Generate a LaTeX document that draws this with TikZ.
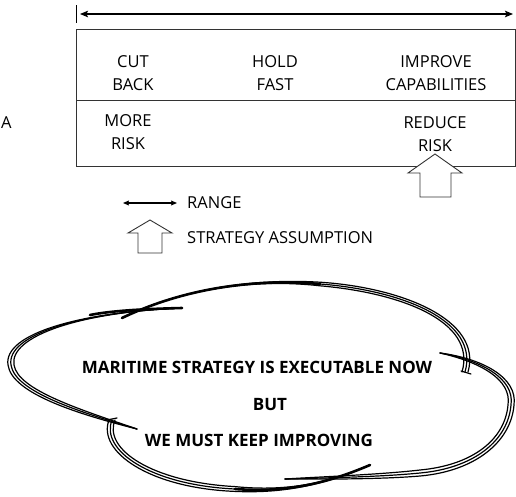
\documentclass[tikz,border=0pt]{standalone}
\usepackage{fontspec}
\setmainfont{Open Sans}
\usetikzlibrary{arrows.meta}
\begin{document}
\begin{tikzpicture}[x=1pt,y=-1pt,
  lbl/.style={font=\fontsize{16.5}{23}\selectfont, align=center, inner sep=0pt},
  big/.style={font=\bfseries\fontsize{17}{20}\selectfont, inner sep=0pt},
  boxline/.style={draw=black!80, line width=0.9pt},
  hollow/.style={draw=black!80, line width=0.9pt, fill=white, line join=miter},
  rangearrow/.style={line width=1.3pt, {Stealth[length=8pt,width=6.5pt,inset=1.5pt]}-{Stealth[length=8pt,width=6.5pt,inset=1.5pt]}},
  smallrange/.style={line width=1.1pt, {Stealth[length=6pt,width=5pt,inset=1pt]}-{Stealth[length=6pt,width=5pt,inset=1pt]}},
  cloudline/.style={line width=1.2pt, line cap=round},
  cloudthick/.style={line width=2.6pt, line cap=round},
]
\useasboundingbox (0,0) rectangle (516,496);

% range indicator
\coordinate (tickT) at (76,5);
\coordinate (tickB) at (76,23);
\draw[line width=0.9pt] (tickT) -- (tickB);
\coordinate (rl) at (80,14);
\coordinate (rr) at (513,14);
\draw[rangearrow] (rl) -- (rr);

% table box
\coordinate (bx1) at (76,29);
\coordinate (bx2) at (515,166);
\draw[boxline] (bx1) rectangle (bx2);
\coordinate (mL) at (76,100);
\coordinate (mR) at (515,100);
\draw[boxline] (mL) -- (mR);

\node[lbl] (cut) at (133,73.5) {CUT\\BACK};
\node[lbl] (hold) at (275,73.5) {HOLD\\FAST};
\node[lbl] (impr) at (436,73.5) {IMPROVE\\CAPABILITIES};
\node[lbl] (more) at (128,132) {MORE\\RISK};
\node[lbl] (redu) at (435,134) {REDUCE\\RISK};
\node[lbl, anchor=west] (a) at (1,123) {A};

% strategy assumption arrow on box
\draw[hollow] (435,154) -- (462,173) -- (451,173) -- (451,197) -- (420,197) -- (420,173) -- (408,173) -- cycle;

% legend
\coordinate (lgl) at (123,203);
\coordinate (lgr) at (177,203);
\draw[smallrange] (lgl) -- (lgr);
\node[lbl, anchor=west] (range) at (187,203) {RANGE};
\draw[hollow] (150,220) -- (172,233) -- (162,233) -- (162,253) -- (138,253) -- (138,233) -- (128,233) -- cycle;
\node[lbl, anchor=west] (strat) at (187,238) {STRATEGY ASSUMPTION};

% cloud
\foreach \k in {-3,0,3}{
  % top lobe
  \draw[cloudline] (122,318) .. controls (180,290) and (250,278) .. (320,{284-0.6*\k})
     .. controls (400,{290-0.9*\k}) and ({480+\k},{320-0.3*\k}) .. ({465+\k},372);
  % right lobe
  \draw[cloudline] (440,353) .. controls ({480+0.2*\k},{360-0.6*\k}) and ({515+\k},{378-0.4*\k}) .. ({511+\k},405)
     .. controls ({508+\k},{440+0.4*\k}) and ({475+0.4*\k},{468+\k}) .. (420,{473+\k})
     .. controls (380,{477+0.8*\k}) and (320,{478+0.4*\k}) .. (285,479);
  % bottom lobe
  \draw[cloudline] ({112-\k},420) .. controls ({100-\k},{450+0.4*\k}) and ({150-0.4*\k},{485+\k}) .. (235,{489+0.8*\k})
     .. controls (290,{493+0.3*\k}) and (330,482) .. (370,465);
  % left lobe
  \draw[cloudline] (137,429) .. controls ({80-0.2*\k},{412+0.8*\k}) and ({15-\k},{392+0.6*\k}) .. ({11-\k},365)
     .. controls ({6-\k},{335-0.4*\k}) and (80,312) .. (182,308);
}
\draw[cloudthick] (122,318) .. controls (180,290) and (250,278) .. (320,284);
\draw[cloudthick] (235,489) .. controls (290,493) and (330,482) .. (370,465);
\draw[cloudthick] (90,315) .. controls (110,311) and (140,309) .. (182,308);
\draw[cloudline] (461,371) -- (471,374);
\draw[cloudline] (107,420) -- (117,418);

\node[big] (t1) at (257,367) {MARITIME STRATEGY IS EXECUTABLE NOW};
\node[big] (t2) at (270,405) {BUT};
\node[big] (t3) at (259,440) {WE MUST KEEP IMPROVING};
\end{tikzpicture}
\end{document}
